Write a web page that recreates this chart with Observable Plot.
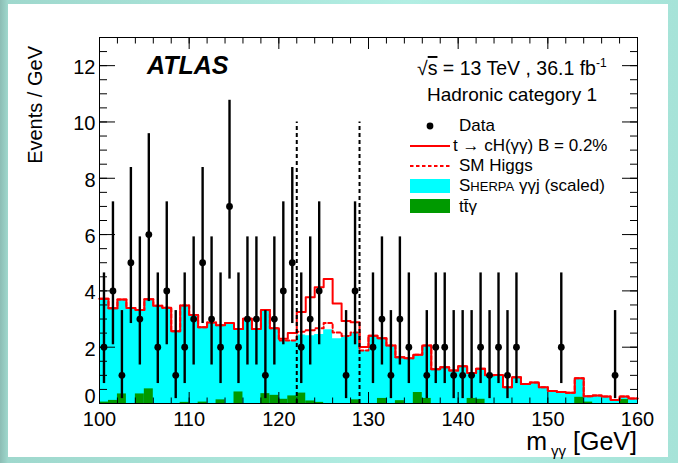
<!DOCTYPE html>
<html>
<head>
<meta charset="utf-8">
<script src="https://cdn.jsdelivr.net/npm/d3@7"></script>
<script src="https://cdn.jsdelivr.net/npm/@observablehq/plot@0.6"></script>
<style>
  html, body { margin: 0; padding: 0; }
  body {
    width: 678px; height: 463px; position: relative; overflow: hidden;
    background: linear-gradient(to right, #8cbdb4 0px, #9fd8cd 8px, #b2eee3 60%, #a6e3d8 100%);
  }
  #panel { position: absolute; left: 8px; top: 4px; right: 10px; bottom: 6px; background: #ffffff; }
  #chart { position: absolute; left: 0; top: 0; }
</style>
</head>
<body>
<div id="panel"></div>
<div id="chart"></div>
<script>
// Diphoton invariant mass bins, 1 GeV wide (lower edges, GeV)
const binStart = [
  100, 101, 102, 103, 104, 105, 106, 107, 108, 109,
  110, 111, 112, 113, 114, 115, 116, 117, 118, 119,
  120, 121, 122, 123, 124, 125, 126, 127, 128, 129,
  130, 131, 132, 133, 134, 135, 136, 137, 138, 139,
  140, 141, 142, 143, 144, 145, 146, 147, 148, 149,
  150, 151, 152, 153, 154, 155, 156, 157, 158, 159
];

// Observed events per bin (empty bins are not drawn)
const dataCounts = [
  2, 4, 1, 5, 3, 6, 2, 4, 1, 2,
  3, 5, 3, 2, 7, 2, 3, 3, 1, 3,
  4, 5, 2, 3, 4, 0, 0, 1, 4, 0,
  2, 3, 1, 3, 2, 0, 1, 2, 2, 1,
  1, 1, 2, 1, 2, 1, 2, 0, 0, 0,
  0, 2, 0, 0, 0, 0, 0, 1, 0, 0
];

// Stacked background: Sherpa γγj (scaled) + tt̄γ, total height per bin
const backgroundTotal = [
  3.72, 3.38, 3.69, 3.39, 3.32, 3.70, 3.47, 3.40, 2.57, 3.48,
  3.14, 2.71, 2.88, 2.78, 2.86, 2.65, 3.01, 2.65, 3.32, 2.67,
  2.24, 2.22, 2.43, 2.41, 2.45, 2.62, 2.30, 2.35, 2.50, 1.88,
  2.41, 2.32, 2.06, 1.64, 1.61, 1.73, 2.06, 1.22, 1.29, 1.17,
  1.32, 1.08, 1.23, 1.00, 1.01, 0.58, 0.93, 0.69, 0.75, 0.58,
  0.44, 0.41, 0.38, 0.90, 0.26, 0.28, 0.25, 0.12, 0.25, 0.18
];

// tt̄γ component
const ttGamma = [
  0.05, 0.11, 0.34, 0.00, 0.34, 0.52, 0.00, 0.00, 0.00, 0.04,
  0.00, 0.05, 0.00, 0.13, 0.00, 0.41, 0.00, 0.00, 0.35, 0.29,
  0.15, 0.27, 0.37, 0.09, 0.04, 0.00, 0.00, 0.00, 0.13, 0.00,
  0.00, 0.18, 0.00, 0.10, 0.00, 0.39, 0.18, 0.00, 0.00, 0.00,
  0.00, 0.18, 0.15, 0.00, 0.00, 0.00, 0.00, 0.00, 0.00, 0.00,
  0.00, 0.00, 0.00, 0.22, 0.05, 0.00, 0.00, 0.00, 0.14, 0.00
];

// SM Higgs contribution on top of the background
const smHiggs = [
  0, 0, 0, 0, 0, 0, 0, 0, 0, 0,
  0, 0, 0, 0, 0, 0, 0, 0, 0, 0,
  0.00, 0.02, 0.12, 0.19, 0.22, 0.24, 0.22, 0.05, 0.02, 0.00,
  0, 0, 0, 0, 0, 0, 0, 0, 0, 0,
  0, 0, 0, 0, 0, 0, 0, 0, 0, 0,
  0, 0, 0, 0, 0, 0, 0, 0, 0, 0
];

// t → cH(γγ) signal for B = 0.2%, on top of background + SM Higgs
const signal = [
  0, 0, 0, 0, 0, 0, 0, 0, 0, 0,
  0, 0, 0, 0, 0, 0, 0, 0, 0, 0,
  0.06, 0.26, 0.70, 1.17, 1.46, 1.56, 1.03, 0.53, 0.37, 0.13,
  0, 0, 0, 0, 0, 0, 0, 0, 0, 0,
  0, 0, 0, 0, 0, 0, 0, 0, 0, 0,
  0, 0, 0, 0, 0, 0, 0, 0, 0, 0
];

// 68% Poisson intervals by observed count n = 0..7
const poissonLow  = [0, 0.173, 0.708, 1.367, 2.086, 2.840, 3.620, 4.419];
const poissonHigh = [1.841, 3.300, 4.638, 5.918, 7.163, 8.382, 9.584, 10.77];

// Signal mass window edges and the height of their markers
const massWindow = [122, 129];
const massWindowTop = 10;

// Axis ticks
const xTicks = [100, 110, 120, 130, 140, 150, 160];
const yTicks = [0, 2, 4, 6, 8, 10, 12];
const xMinor = d3.range(100, 160.01, 2);
const yMinor = d3.range(0, 13.01, 0.5);

const bins = binStart.map((lo, i) => ({
  lo, hi: lo + 1,
  bkg: backgroundTotal[i],
  ttg: ttGamma[i],
  sm: backgroundTotal[i] + smHiggs[i],
  tot: backgroundTotal[i] + smHiggs[i] + signal[i]
}));
const step = key => bins.flatMap(b => [{x: b.lo, v: b[key]}, {x: b.hi, v: b[key]}]);
const points = binStart
  .map((lo, i) => ({c: lo + 0.5, n: dataCounts[i], lo: poissonLow[dataCounts[i]], hi: poissonHigh[dataCounts[i]]}))
  .filter(d => d.n > 0);

const font = "'Liberation Sans', Arial, Helvetica, sans-serif";
const W = 678, H = 463;
const mL = 99, mR = 41, mT = 37, mB = 60;

const plot = Plot.plot({
  width: W, height: H,
  marginLeft: mL, marginRight: mR, marginTop: mT, marginBottom: mB,
  x: {domain: [100, 160], label: null},
  y: {domain: [0, 13], label: null},
  style: {background: "transparent", fontFamily: font, fontSize: "20px", color: "black", overflow: "visible"},
  marks: [
    Plot.area(step("bkg"), {x1: "x", y1: 0, y2: "v", fill: "#00ffff"}),
    Plot.rect(bins.filter(b => b.ttg > 0), {x1: "lo", x2: "hi", y1: 0, y2: "ttg", fill: "#009a00"}),
    Plot.line(step("sm"), {x: "x", y: "v", stroke: "#ff0000", strokeWidth: 2, strokeDasharray: "3.5,2.5"}),
    Plot.line(step("tot"), {x: "x", y: "v", stroke: "#ff0000", strokeWidth: 2}),
    Plot.ruleX(massWindow, {y1: 0, y2: massWindowTop, stroke: "black", strokeWidth: 2, strokeDasharray: "4,3"}),
    Plot.ruleX(points, {x: "c", y1: "lo", y2: "hi", stroke: "black", strokeWidth: 2.4}),
    Plot.dot(points, {x: "c", y: "n", r: 3.4, fill: "black", stroke: null}),
    Plot.frame({stroke: "black", strokeWidth: 1}),
    // inward ticks on all four sides
    Plot.axisX(xTicks, {anchor: "bottom", tickSize: -11, tickFormat: () => "", label: null}),
    Plot.axisX(xMinor, {anchor: "bottom", tickSize: -5.5, tickFormat: () => "", label: null}),
    Plot.axisX(xTicks, {anchor: "top", tickSize: -11, tickFormat: () => "", label: null}),
    Plot.axisX(xMinor, {anchor: "top", tickSize: -5.5, tickFormat: () => "", label: null}),
    Plot.axisY(yTicks, {anchor: "left", tickSize: -16, tickFormat: () => "", label: null}),
    Plot.axisY(yMinor, {anchor: "left", tickSize: -8, tickFormat: () => "", label: null}),
    Plot.axisY(yTicks, {anchor: "right", tickSize: -16, tickFormat: () => "", label: null}),
    Plot.axisY(yMinor, {anchor: "right", tickSize: -8, tickFormat: () => "", label: null}),
    // tick labels (the origin label sits a little higher, clear of the x labels)
    Plot.axisX(xTicks, {anchor: "bottom", tickSize: 0, tickPadding: 8, fontSize: 20, label: null}),
    Plot.axisY(yTicks.filter(t => t > 0), {anchor: "left", tickSize: 0, tickPadding: 4, dy: 2, fontSize: 20, label: null}),
    Plot.axisY(yTicks.filter(t => t === 0), {anchor: "left", tickSize: 0, tickPadding: 4, dy: -7, fontSize: 20, label: null})
  ]
});
document.getElementById("chart").appendChild(plot);

// Annotations, legend and axis titles
const svg = d3.select(plot);
const ann = svg.append("g").attr("font-family", font).attr("fill", "black").attr("text-anchor", "start");

ann.append("text").attr("x", 147).attr("y", 74)
  .attr("font-size", 25).attr("font-weight", "bold").attr("font-style", "italic").text("ATLAS");

const energy = ann.append("text").attr("x", 417).attr("y", 75).attr("font-size", 19.5);
energy.append("tspan").text("√");
energy.append("tspan").style("text-decoration", "overline").text("s");
energy.append("tspan").text(" = 13 TeV , 36.1 fb");
energy.append("tspan").attr("font-size", 12).attr("dy", -8).text("-1");

ann.append("text").attr("x", 427).attr("y", 101).attr("font-size", 19).text("Hadronic category 1");

// legend
const leg = ann.append("g").attr("font-size", 17);
leg.append("circle").attr("cx", 430).attr("cy", 126).attr("r", 3.4);
leg.append("text").attr("x", 459).attr("y", 131).text("Data");

leg.append("line").attr("x1", 410).attr("x2", 450).attr("y1", 146).attr("y2", 146)
  .attr("stroke", "#ff0000").attr("stroke-width", 2);
leg.append("text").attr("x", 453).attr("y", 151).text("t → cH(γγ) B = 0.2%");

leg.append("line").attr("x1", 410).attr("x2", 450).attr("y1", 166).attr("y2", 166)
  .attr("stroke", "#ff0000").attr("stroke-width", 2).attr("stroke-dasharray", "3.5,2.5");
leg.append("text").attr("x", 459).attr("y", 171).text("SM Higgs");

leg.append("rect").attr("x", 410).attr("y", 179).attr("width", 40).attr("height", 14).attr("fill", "#00ffff");
const sh = leg.append("text").attr("x", 459).attr("y", 191);
sh.append("tspan").text("S");
sh.append("tspan").attr("font-size", 13).text("HERPA");
sh.append("tspan").text(" γγj (scaled)");

leg.append("rect").attr("x", 410).attr("y", 199).attr("width", 40).attr("height", 14).attr("fill", "#009a00");
leg.append("text").attr("x", 459).attr("y", 212).text("tt\u0304γ");

// axis titles
ann.append("text").attr("transform", "translate(42,46) rotate(-90)")
  .attr("text-anchor", "end").attr("font-size", 20).text("Events / GeV");

const xt = ann.append("text").attr("x", W - mR).attr("y", 450).attr("text-anchor", "end").attr("font-size", 25);
xt.append("tspan").text("m");
xt.append("tspan").attr("font-size", 15).attr("dy", 6).text(" γγ");
xt.append("tspan").attr("dy", -6).text(" [GeV]");
</script>
</body>
</html>
